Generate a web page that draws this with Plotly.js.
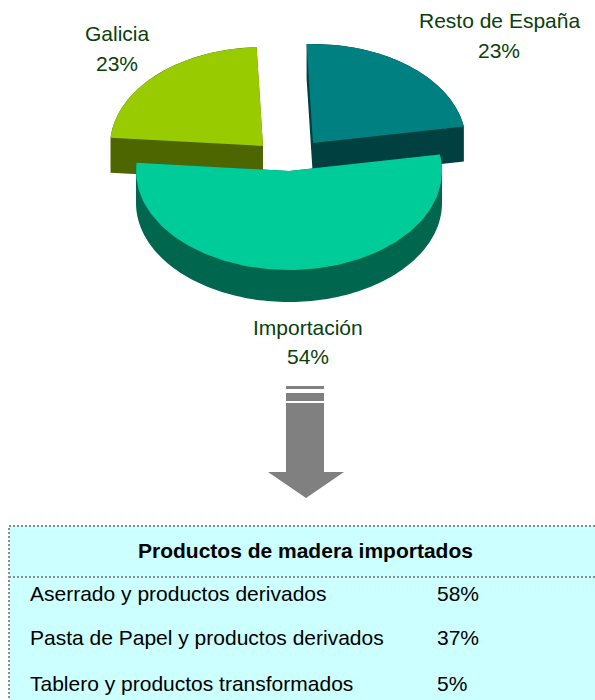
<!DOCTYPE html>
<html><head><meta charset="utf-8">
<script src="https://cdn.plot.ly/plotly-3.0.1.min.js"></script>
<style>html,body{margin:0;padding:0;background:#fff}</style>
</head><body><div id="chart" style="width:595px;height:700px"></div>
<script>
// ---- data ----
const regions = ["Galicia", "Resto de España", "Importación"];
const shares = [23, 23, 54];
const tableTitle = "Productos de madera importados";
const products = ["Aserrado y productos derivados", "Pasta de Papel y productos derivados", "Tablero y productos transformados"];
const productShares = [58, 37, 5];

// ---- style ----
const topColors = ["#99CC00", "#008080", "#00CC99"];
const sideColors = ["#4D6600", "#004040", "#00664D"];
const labelColor = "#0A400A";
const FONT = "Liberation Sans, Arial, sans-serif";
const FS = 21;
const pieCenter = [288, 155], RX = 153, RY = 99;
const depths = [35, 35, 32];
const rotation = 2.4;
const explode = [[-25, -9], [25, -12], [1, 16]];
const labelPos = [[117, 33, 63], [499, 20, 50], [308, 327, 356]];

const total = shares.reduce((a, b) => a + b, 0);
const order = [2, 1, 0];
let ang = 270 + rotation - shares[2] / total * 360 / 2;
const spans = {};
order.forEach(i => { const s = shares[i] / total * 360; spans[i] = [ang, ang + s]; ang += s; });

function slicePoly(i) {
  const cx = pieCenter[0] + explode[i][0], cy = pieCenter[1] + explode[i][1];
  const [t0, t1] = spans[i];
  const pts = [[cx, cy]];
  const n = Math.ceil((t1 - t0) / 1.5);
  for (let k = 0; k <= n; k++) {
    const t = (t0 + (t1 - t0) * k / n) * Math.PI / 180;
    pts.push([cx + RX * Math.cos(t), cy - RY * Math.sin(t)]);
  }
  return pts;
}
function area(p) { let s = 0; for (let k = 0; k < p.length; k++) { const a = p[k], b = p[(k + 1) % p.length]; s += a[0] * b[1] - b[0] * a[1]; } return s / 2; }
function pushPoly(xs, ys, p) {
  const a = area(p); if (Math.abs(a) < 1e-6) return;
  const q = a < 0 ? p.slice().reverse() : p;
  q.forEach(v => { xs.push(v[0]); ys.push(v[1]); }); xs.push(null); ys.push(null);
}

const traces = [];
[0, 1, 2].forEach(i => {
  const P = slicePoly(i), D = depths[i];
  const sx = [], sy = [];
  pushPoly(sx, sy, P.map(v => [v[0], v[1] + D]));
  for (let k = 0; k < P.length; k++) {
    const a = P[k], b = P[(k + 1) % P.length];
    pushPoly(sx, sy, [a, b, [b[0], b[1] + D], [a[0], a[1] + D]]);
  }
  traces.push({ type: "scatter", mode: "lines", x: sx, y: sy, fill: "toself", fillcolor: sideColors[i], line: { width: 0 }, hoverinfo: "skip", showlegend: false });
  traces.push({ type: "scatter", mode: "lines", x: P.map(v => v[0]), y: P.map(v => v[1]), fill: "toself", fillcolor: topColors[i], line: { width: 0 }, hoverinfo: "skip", showlegend: false, name: regions[i] });
});

const annotations = [];
regions.forEach((r, i) => {
  annotations.push({ x: labelPos[i][0], y: labelPos[i][1], text: r, showarrow: false, xanchor: "center", yanchor: "middle", font: { family: FONT, size: FS, color: labelColor } });
  annotations.push({ x: labelPos[i][0], y: labelPos[i][2], text: shares[i] + "%", showarrow: false, xanchor: "center", yanchor: "middle", font: { family: FONT, size: FS, color: labelColor } });
});
annotations.push({ x: 305, y: 550, text: "<b>" + tableTitle + "</b>", showarrow: false, xanchor: "center", yanchor: "middle", font: { family: FONT, size: FS, color: "#000" } });
const rowY = [593, 637, 683];
products.forEach((p, k) => {
  annotations.push({ x: 28, y: rowY[k], text: p, showarrow: false, xanchor: "left", yanchor: "middle", font: { family: FONT, size: FS, color: "#000" } });
  annotations.push({ x: 435, y: rowY[k], text: productShares[k] + "%", showarrow: false, xanchor: "left", yanchor: "middle", font: { family: FONT, size: FS, color: "#000" } });
});

const gray = "#808080";
const shapes = [
  { type: "rect", xref: "x", yref: "y", x0: 286, x1: 324, y0: 386, y1: 389, fillcolor: gray, line: { width: 0 } },
  { type: "rect", xref: "x", yref: "y", x0: 286, x1: 324, y0: 393, y1: 401, fillcolor: gray, line: { width: 0 } },
  { type: "path", xref: "x", yref: "y", path: "M286,403 L324,403 L324,472 L344,472 L306,498 L268,472 L286,472 Z", fillcolor: gray, line: { width: 0 } },
  { type: "rect", xref: "x", yref: "y", x0: 9, x1: 601, y0: 526, y1: 712, fillcolor: "#CCFFFF", line: { color: "#8C8C8C", width: 2, dash: "2px,2px" } },
  { type: "line", xref: "x", yref: "y", x0: 9, x1: 601, y0: 577, y1: 577, line: { color: "#8C8C8C", width: 2, dash: "2px,2px" } }
];

const layout = {
  width: 595, height: 700, margin: { l: 0, r: 0, t: 0, b: 0 },
  paper_bgcolor: "#fff", plot_bgcolor: "#fff", showlegend: false,
  xaxis: { range: [0, 595], visible: false, fixedrange: true },
  yaxis: { range: [700, 0], visible: false, fixedrange: true },
  shapes: shapes, annotations: annotations
};
Plotly.newPlot("chart", traces, layout, { staticPlot: true, displayModeBar: false });
</script></body></html>
